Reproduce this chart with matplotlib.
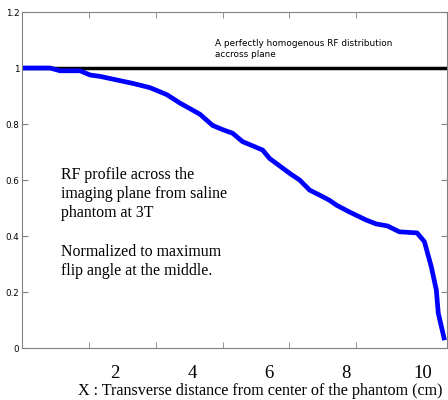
import matplotlib
matplotlib.use("Agg")
import matplotlib.pyplot as plt

# RF profile
x_cm = [-0.34, 0.31, 0.57, 1.09, 1.35, 1.61, 2.46, 2.9, 3.34, 3.68, 4.2, 4.53,
        4.79, 5.05, 5.31, 5.83, 6.01, 6.53, 6.79, 7.05, 7.31, 7.56, 7.75, 8.08,
        8.52, 8.78, 9.07, 9.38, 9.84, 10.03, 10.21, 10.34, 10.39, 10.54]
rf = [1.0, 1.0, 0.99, 0.99, 0.975, 0.97, 0.945, 0.93, 0.905, 0.875, 0.835, 0.795,
      0.78, 0.767, 0.737, 0.707, 0.677, 0.624, 0.6, 0.564, 0.546, 0.528, 0.51, 0.486,
      0.457, 0.443, 0.436, 0.415, 0.411, 0.38, 0.29, 0.207, 0.125, 0.036]
homogeneous = 1.0

x_labels = [2, 4, 6, 8, 10]
frame_ticks = [1.32, 3.06, 4.81, 6.52, 8.26, 10.0]
y_ticks = [0, 0.2, 0.4, 0.6, 0.8, 1, 1.2]

fig = plt.figure(figsize=(4.48, 4.0), dpi=100)
ax = fig.add_axes([0.049, 0.13, 0.949, 0.84])

ax.axhline(homogeneous, color="black", lw=2.5)
ax.plot(x_cm, rf, color="#0000ff", lw=3.4, solid_joinstyle="round")

ax.set_xlim(-0.42, 10.62)
ax.set_ylim(0, 1.2)

for s in ax.spines.values():
    s.set_color("#808080")
    s.set_linewidth(0.8)

ax.set_yticks(y_ticks)
ax.set_yticklabels(["0", "0.2", "0.4", "0.6", "0.8", "1", "1.2"])
ax.tick_params(axis="y", which="major", direction="in", length=4, right=True,
               labelsize=6.3, pad=2, color="#808080")

ax.set_xticks(x_labels)
ax.set_xticklabels([str(v) for v in x_labels], family="Liberation Serif")
ax.tick_params(axis="x", which="major", length=0, labelsize=13.5, pad=12)
ax.set_xticks(frame_ticks, minor=True)
ax.tick_params(axis="x", which="minor", direction="in", length=4, top=True,
               color="#808080")

ax.set_xlabel("X : Transverse distance from center of the phantom (cm)",
              family="Liberation Serif", fontsize=11.6, labelpad=1)
ax.xaxis.label.set_x(0.56)

ax.text(4.6, 1.068, "A perfectly homogenous RF distribution\naccross plane",
        fontsize=6.4, va="center", ha="left", linespacing=1.25)
ax.text(0.6, 0.648, "RF profile across the\nimaging plane from saline\nphantom at 3T\n\n"
        "Normalized to maximum\nflip angle at the middle.",
        family="Liberation Serif", fontsize=11.4, va="top", ha="left", linespacing=1.28)

fig.savefig("out.png", dpi=100)
